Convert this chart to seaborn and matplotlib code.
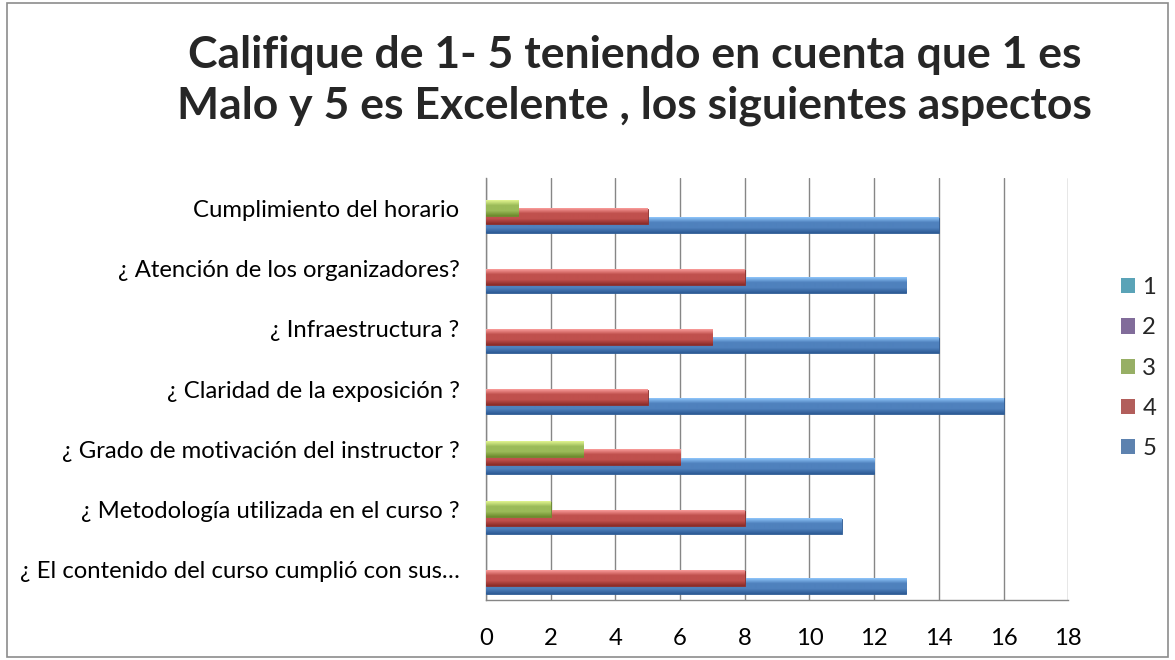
import numpy as np
import pandas as pd
import seaborn as sns
import matplotlib.pyplot as plt
from matplotlib.patches import Rectangle
from matplotlib.colors import LinearSegmentedColormap

# datos
aspectos = ['Cumplimiento del horario',
            '¿ Atención de los organizadores?',
            '¿ Infraestructura ?',
            '¿ Claridad de la exposición ?',
            '¿ Grado de motivación del instructor ?',
            '¿ Metodología utilizada en el curso ?',
            '¿ El contenido del curso cumplió con sus…']
calificaciones = ['1', '2', '3', '4', '5']
cal_1 = [0, 0, 0, 0, 0, 0, 0]
cal_2 = [0, 0, 0, 0, 0, 0, 0]
cal_3 = [1, 0, 0, 0, 3, 2, 0]
cal_4 = [5, 8, 7, 5, 6, 8, 8]
cal_5 = [14, 13, 14, 16, 12, 11, 13]

titulo = 'Califique de 1- 5 teniendo en cuenta que 1 es\nMalo y 5 es Excelente , los siguientes aspectos'

colores = ['#4BACC6', '#8064A2', '#9BBB59', '#C0504D', '#4F81BD']
claros = ['#9fe3f3', '#b9a2dc', '#e2f590', '#fa9c9a', '#8fc6fb']
oscuros = ['#2c7c91', '#4e3a6e', '#6b8a2c', '#8a2b28', '#2d5b95']

df = pd.DataFrame({'aspecto': aspectos * 5,
                   'calificacion': np.repeat(calificaciones, len(aspectos)),
                   'valor': cal_1 + cal_2 + cal_3 + cal_4 + cal_5})

sns.set_style('white')
plt.rcParams['font.family'] = ['Lato', 'DejaVu Sans']

fig = plt.figure(figsize=(11.75, 6.6), dpi=100)
ax = fig.add_axes([0.4136, 0.0909, 0.4955, 0.639])

sns.barplot(data=df, y='aspecto', x='valor', hue='calificacion', order=aspectos,
            hue_order=calificaciones, palette=colores, width=0.70, orient='h',
            dodge=True, ax=ax, errorbar=None, linewidth=0)

# barras superpuestas al estilo Excel
alto = 0.25
for i, cont in enumerate(ax.containers):
    cmap = LinearSegmentedColormap.from_list('g%d' % i, [claros[i], colores[i], colores[i], oscuros[i]])
    for p in cont:
        cy = p.get_y() + p.get_height() / 2
        p.set_y(cy - alto / 2)
        p.set_height(alto)
        p.set_zorder(10 - i)
        if p.get_width() > 0:
            p.set_edgecolor(oscuros[i])
            p.set_linewidth(0.6)
            grad = np.linspace(0, 1, 64).reshape(-1, 1)
            ax.imshow(grad, cmap=cmap, aspect='auto', origin='upper',
                      extent=(0, p.get_width(), cy + alto / 2, cy - alto / 2),
                      zorder=10 - i + 0.5, clip_path=p, clip_on=True)
        else:
            p.set_linewidth(0)

ax.set_xlim(0, 18)
ax.set_ylim(6.5, -0.5)
ax.set_xticks(range(0, 19, 2))
ax.xaxis.grid(True, color='#868686', linewidth=1)
ax.set_axisbelow(True)
ax.set_xlabel('')
ax.set_ylabel('')
for s in ['top', 'right']:
    ax.spines[s].set_visible(False)
for s in ['left', 'bottom']:
    ax.spines[s].set_color('#868686')
    ax.spines[s].set_linewidth(1)
ax.tick_params(axis='both', length=0, labelsize=17.2, colors='black')
ax.tick_params(axis='x', pad=20)
ax.tick_params(axis='y', pad=19)

sns.move_legend(ax, loc='center left', bbox_to_anchor=(1.0, 0.55), frameon=False,
                title=None, fontsize=17.2, handlelength=0.6, handleheight=0.6,
                handletextpad=0.3, labelspacing=0.8, borderaxespad=1.8)

fig.text(0.54, 0.878, titulo, ha='center', va='center', fontsize=32,
         fontweight='bold', linespacing=1.3)

fig.patches.append(Rectangle((0.006, 0.004), 0.988, 0.992, transform=fig.transFigure,
                             fill=False, edgecolor='#8c8c8c', linewidth=1.2))

fig.savefig('out.png', dpi=100)
